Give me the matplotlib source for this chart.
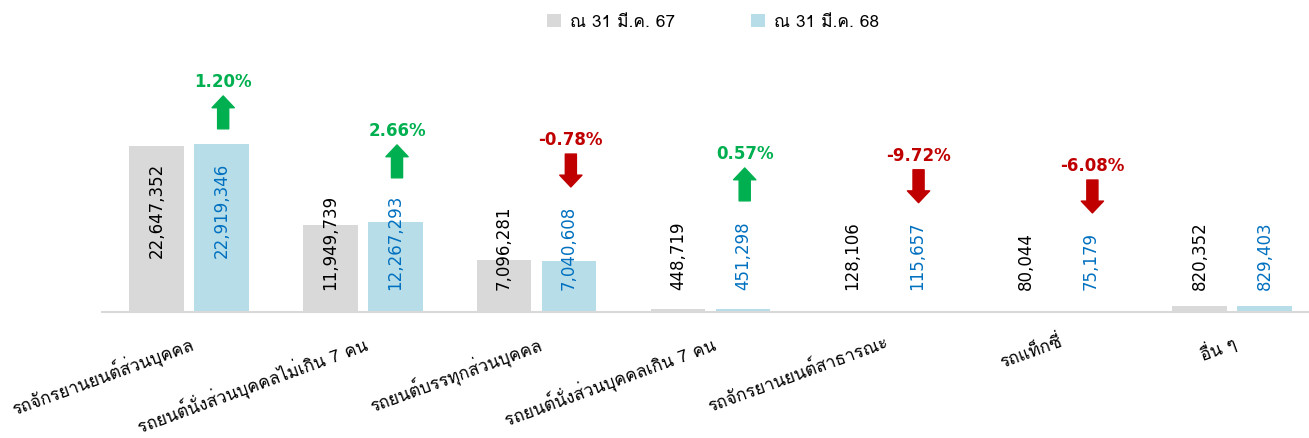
import matplotlib
matplotlib.use("Agg")
import matplotlib.pyplot as plt
from matplotlib import font_manager
from matplotlib.patches import Patch
import numpy as np

# vehicle types (Thai)
categories = [
    "รถจักรยานยนต์ส่วนบุคคล",
    "รถยนต์นั่งส่วนบุคคลไม่เกิน 7 คน",
    "รถยนต์บรรทุกส่วนบุคคล",
    "รถยนต์นั่งส่วนบุคคลเกิน 7 คน",
    "รถจักรยานยนต์สาธารณะ",
    "รถแท็กซี่",
    "อื่น ๆ",
]
series_names = ["ณ 31 มี.ค. 67", "ณ 31 มี.ค. 68"]
vals_67 = [22647352, 11949739, 7096281, 448719, 128106, 80044, 820352]
vals_68 = [22919346, 12267293, 7040608, 451298, 115657, 75179, 829403]
show_change = [True, True, True, True, True, True, False]

# layout of the change arrows (top of arrow, in data units) - hand placed in the original
arrow_top = [29.55e6, 22.85e6, 21.6e6, 19.7e6, 19.45e6, 18.05e6, None]
arrow_len = 4.5e6

GREY = "#D9D9D9"
BLUE = "#B7DEE8"
BLUE_TXT = "#0070C0"
GREEN = "#00B050"
RED = "#C00000"


def find_thai_font():
    try:
        from fontTools.ttLib import TTFont
    except ImportError:
        return None
    for f in font_manager.fontManager.ttflist:
        try:
            tt = TTFont(f.fname, fontNumber=0, lazy=True)
            cmap = tt.getBestCmap()
            if cmap and 0x0E23 in cmap:
                return f.name
        except Exception:
            continue
    return None


thai = find_thai_font()
fams = ([thai] if thai else []) + ["DejaVu Sans"]
plt.rcParams["font.family"] = fams

fig = plt.figure(figsize=(13.09, 4.39), dpi=100)
ax = fig.add_axes([102 / 1309, 126 / 439, 1 - 102 / 1309, 253 / 439])

x = np.arange(len(categories))
w = 0.315
off = 0.187
ax.bar(x - off, vals_67, w, color=GREY)
ax.bar(x + off, vals_68, w, color=BLUE)

ax.set_xlim(-0.5, 6.443)
ax.set_ylim(0, 34.6e6)

for i in range(len(categories)):
    for xx, v, c in ((x[i] - off, vals_67[i], "black"), (x[i] + off, vals_68[i], BLUE_TXT)):
        if vals_67[i] > 20e6:
            ax.text(xx, vals_67[i] - 2.1e6, f"{v:,}", rotation=90, ha="center", va="top",
                    fontsize=12, color=c, family=["DejaVu Sans"])
        else:
            ax.text(xx, 3.15e6, f"{v:,}", rotation=90, ha="center", va="bottom",
                    fontsize=12, color=c, family=["DejaVu Sans"])

    if show_change[i]:
        pct = (vals_68[i] / vals_67[i] - 1) * 100
        up = pct >= 0
        col = GREEN if up else RED
        top = arrow_top[i]
        bot = top - arrow_len
        xa = x[i] + off + 0.01
        if up:
            tail, tip = bot, top
        else:
            tail, tip = top, bot
        ax.annotate("", xy=(xa, tip), xytext=(xa, tail),
                    arrowprops=dict(arrowstyle="simple,head_width=1.6,head_length=0.85,tail_width=0.8",
                                    color=col, shrinkA=0, shrinkB=0, mutation_scale=10))
        ax.annotate(f"{pct:.2f}%", xy=(xa, top), xytext=(0, 11), textcoords="offset points",
                    ha="center", va="center", fontsize=12, fontweight="bold", color=col,
                    family=["DejaVu Sans"])

ax.set_xticks(x)
ax.set_xticklabels(categories, rotation=20, ha="right", rotation_mode="anchor", fontsize=12.5)
ax.tick_params(axis="x", length=0, pad=14)
ax.set_yticks([])
for s in ("top", "right", "left"):
    ax.spines[s].set_visible(False)
ax.spines["bottom"].set_color(GREY)
ax.spines["bottom"].set_linewidth(1.5)

handles = [Patch(facecolor=GREY, edgecolor="none"), Patch(facecolor=BLUE, edgecolor="none")]
fig.legend(handles, series_names, loc="center", bbox_to_anchor=(713 / 1309, 1 - 23 / 439),
           ncol=2, frameon=False, fontsize=12.5, handlelength=0.8, handleheight=0.8,
           handletextpad=0.5, columnspacing=4.4)

fig.savefig("out.png", dpi=100)
